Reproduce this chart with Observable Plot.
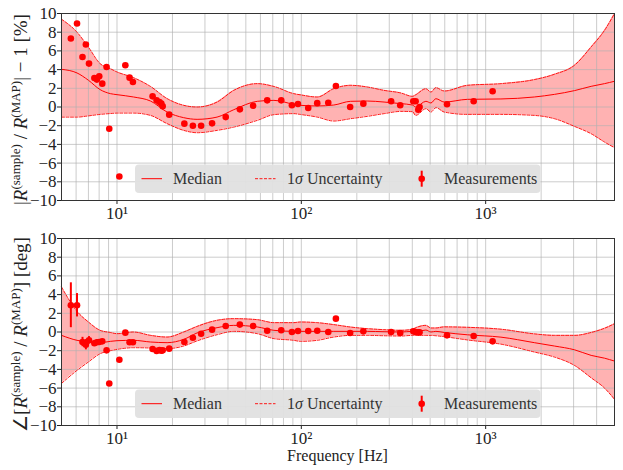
<!DOCTYPE html>
<html><head><meta charset="utf-8">
<script src="https://cdn.jsdelivr.net/npm/d3@7"></script>
<script src="https://cdn.jsdelivr.net/npm/@observablehq/plot@0.6"></script>
<style>body{margin:0;background:#fff;} #c svg{display:block;}</style>
</head><body><div id="c"></div>
<script>
// ---- data ----
const bandFreq = [5, 6.07, 7, 8.1, 9.2, 10, 12.3, 15.2, 18.7, 23, 27.2, 34.9, 43, 57.7, 71, 91, 99, 122, 150, 185, 228, 281, 347, 401, 417, 474, 505, 537, 596, 797, 1210, 1837, 2360, 3030, 3735, 4414, 5000];

const magUpper  = [9.39, 8.0, 6.4, 4.64, 4.1, 3.75, 3.14, 2.2, 0.9, 0.18, 0.0, 0.53, 1.78, 2.5, 2.2, 1.43, 1.3, 1.07, 1.96, 2.32, 2.14, 1.78, 1.5, 1.14, 1.3, 1.96, 1.6, 2.07, 1.71, 2.32, 2.5, 2.93, 3.5, 4.46, 6.43, 8.2, 10.0];
const magMedian = [4.03, 3.64, 2.86, 1.86, 1.43, 1.32, 1.07, 0.64, -0.54, -1.14, -1.32, -1.08, -0.29, 0.61, 0.71, 0.29, 0.18, 0.11, 0.21, 0.61, 0.64, 0.53, 0.36, 0.21, 0.0, 0.61, 0.43, 0.89, 0.53, 0.82, 0.86, 1.07, 1.35, 1.75, 2.21, 2.5, 2.75];
const magLower  = [-1.08, -1.08, -0.95, -0.79, -0.7, -0.65, -0.65, -0.9, -1.78, -2.5, -2.75, -2.5, -2.15, -1.43, -0.82, -0.71, -0.8, -1.08, -1.5, -1.25, -1.0, -0.71, -0.47, -0.5, -0.9, -0.18, -0.54, -0.07, -0.54, -0.79, -0.79, -0.9, -1.25, -2.07, -2.86, -3.75, -4.35];

const phaseUpper  = [4.82, 2.21, 1.07, 0.18, -0.05, -0.18, 0.0, -0.36, -0.54, 0.0, 0.6, 1.25, 1.43, 1.32, 1.0, 1.0, 1.07, 1.0, 0.79, 0.53, 0.36, 0.25, 0.18, 0.29, 0.45, 0.71, 0.43, 0.43, 0.55, 0.5, 0.3, -0.2, -0.36, -0.36, -0.05, 0.4, 0.89];
const phaseMedian = [-0.36, -0.89, -1.07, -1.14, -1.0, -0.93, -0.89, -1.07, -1.14, -0.79, -0.1, 0.46, 0.71, 0.54, 0.18, 0.07, 0.07, 0.07, 0.07, 0.07, 0.07, 0.03, 0.0, 0.07, 0.05, 0.21, 0.0, 0.07, -0.05, -0.3, -0.55, -1.14, -1.5, -1.9, -2.5, -2.8, -3.11];
const phaseLower  = [-5.5, -4.1, -3.2, -2.32, -2.0, -1.86, -1.68, -1.71, -1.78, -1.5, -0.95, -0.29, 0.07, -0.18, -0.71, -0.89, -1.0, -0.89, -0.54, -0.36, -0.36, -0.4, -0.43, -0.36, -0.36, -0.36, -0.36, -0.4, -0.5, -0.85, -1.3, -2.14, -2.68, -3.57, -4.9, -6.0, -7.2];

const measFreq  = [5.62, 6.07, 6.5, 6.78, 7.05, 7.54, 7.78, 8.01, 8.32, 8.78, 9.08, 10.3, 11.1, 11.7, 12.2, 15.6, 16.4, 17.0, 17.4, 17.7, 19.2, 23.2, 25.8, 28.6, 32.8, 38.9, 46.4, 54.8, 65.3, 77.8, 88.9, 95.9, 109, 122, 140, 154, 184, 217, 307, 344, 405, 417, 431, 438, 617, 861, 1091];
const magMeas   = [7.32, 8.93, 5.35, 6.68, 4.64, 3.1, 2.93, 3.28, 2.5, 4.28, -2.32, -7.43, 4.46, 3.14, 2.68, 1.14, 0.71, 0.53, 0.36, 0.07, -0.82, -1.78, -2.0, -2.0, -1.75, -1.08, -0.25, 0.14, 0.71, 0.71, 0.18, 0.32, -0.11, 0.41, 0.46, 2.25, 0.0, 0.36, 0.61, 0.18, 0.61, 0.61, -0.29, 0.0, 0.29, 0.61, 1.68];
const magErr    = measFreq.map(() => 0.15);
const phaseMeas = [2.86, 2.86, -1.07, -1.36, -0.89, -1.2, -1.1, -1.07, -1.0, -1.96, -5.5, -2.96, -0.07, -1.1, -1.1, -1.82, -2.04, -1.93, -2.0, -1.96, -1.78, -1.07, -0.61, -0.18, 0.25, 0.64, 0.79, 0.64, 0.14, 0.18, 0.0, 0.1, 0.1, 0.14, 0.0, 1.43, -0.11, 0.07, 0.0, -0.11, 0.07, 0.0, -0.04, -0.04, -0.36, -0.43, -1.0];
const phaseErr  = [2.4, 1.25, 0.5, 0.55, 0.4, 0.3, 0.25, 0.25, 0.2, 0.2, 0.15, 0.15, 0.1, 0.1, 0.1, 0.1, 0.1, 0.1, 0.1, 0.1, 0.1, 0.1, 0.1, 0.1, 0.1, 0.1, 0.1, 0.1, 0.1, 0.1, 0.1, 0.1, 0.1, 0.1, 0.1, 0.1, 0.1, 0.1, 0.1, 0.1, 0.1, 0.1, 0.1, 0.1, 0.1, 0.1, 0.1];

const yTicks = [-10, -8, -6, -4, -2, 0, 2, 4, 6, 8, 10];
const xTickValues = [10, 100, 1000];
const xTickLabels = ["10¹", "10²", "10³"];
const gridFreq = [5, 6, 7, 8, 9, 10, 20, 30, 40, 50, 60, 70, 80, 90, 100, 200, 300, 400, 500, 600, 700, 800, 900, 1000, 2000, 3000, 4000, 5000];

const legendLabels = ["Median", "Uncertainty", "Measurements"];
const xLabel = "Frequency [Hz]";

const FONT = "Liberation Serif";

function panel(o) {
  const band = bandFreq.map((f, i) => ({f, hi: o.upper[i], lo: o.lower[i], med: o.median[i]}));
  const pts = measFreq.map((f, i) => ({f, v: o.meas[i], e: o.err[i]}));
  const curve = "monotone-x";
  const svg = Plot.plot({
    width: 623, height: o.height,
    marginTop: 13, marginBottom: o.marginBottom, marginLeft: 61, marginRight: 9,
    style: {fontFamily: FONT, fontSize: "17px", color: "#222", background: "white"},
    x: {type: "log", domain: [5, 5000], ticks: xTickValues,
        tickFormat: d => xTickLabels[xTickValues.indexOf(d)], label: null, tickSize: 4, tickPadding: 2},
    y: {domain: [-10, 10], ticks: yTicks,
        tickFormat: d => d < 0 ? "\u2212" + (-d) : String(d), label: null, tickSize: 4, tickPadding: 1},
    marks: [
      Plot.areaY(band, {x: "f", y1: "lo", y2: "hi", fill: "#ff0000", fillOpacity: 0.3, curve}),
      Plot.ruleX(gridFreq, {stroke: "#b0b0b0", strokeOpacity: 0.65, strokeWidth: 1}),
      Plot.ruleY(yTicks, {stroke: "#b0b0b0", strokeOpacity: 0.65, strokeWidth: 1}),
      Plot.line(band, {x: "f", y: "hi", stroke: "red", strokeWidth: 0.9, strokeDasharray: "3,1.5", curve}),
      Plot.line(band, {x: "f", y: "lo", stroke: "red", strokeWidth: 0.9, strokeDasharray: "3,1.5", curve}),
      Plot.line(band, {x: "f", y: "med", stroke: "red", strokeWidth: 1, curve}),
      Plot.ruleX(pts, {x: "f", y1: d => d.v - d.e, y2: d => d.v + d.e, stroke: "red", strokeWidth: 2}),
      Plot.dot(pts, {x: "f", y: "v", r: 3.3, fill: "red", stroke: "none"}),
      Plot.frame({stroke: "#333", strokeWidth: 1})
    ]
  });
  const s = d3.select(svg);
  s.style("overflow", "visible");
  // legend
  const g = s.append("g").attr("font-family", FONT).attr("font-size", "16px").attr("fill", "#333")
    .attr("text-anchor", "start");
  g.append("rect").attr("x", 135).attr("y", 164.5).attr("width", 405.5).attr("height", 28.5)
    .attr("rx", 4).attr("fill", "#e0e0e0").attr("fill-opacity", 0.95);
  const ly = 178.7;
  g.append("line").attr("x1", 141.5).attr("x2", 162).attr("y1", ly).attr("y2", ly)
    .attr("stroke", "red").attr("stroke-width", 1);
  g.append("text").attr("x", 173).attr("y", ly + 5.5).attr("text-anchor", "start").text(legendLabels[0]);
  g.append("line").attr("x1", 255).attr("x2", 275.5).attr("y1", ly).attr("y2", ly)
    .attr("stroke", "red").attr("stroke-width", 0.9).attr("stroke-dasharray", "3,1.5");
  const t2 = g.append("text").attr("x", 287).attr("y", ly + 5.5).attr("text-anchor", "start");
  t2.append("tspan").text("1");
  t2.append("tspan").attr("font-style", "italic").text("σ");
  t2.append("tspan").text(" " + legendLabels[1]);
  g.append("line").attr("x1", 421.7).attr("x2", 421.7).attr("y1", ly - 8).attr("y2", ly + 8)
    .attr("stroke", "red").attr("stroke-width", 2);
  g.append("circle").attr("cx", 421.7).attr("cy", ly).attr("r", 3.3).attr("fill", "red");
  g.append("text").attr("x", 444).attr("y", ly + 5.5).attr("text-anchor", "start").text(legendLabels[2]);
  // y label
  const cy = 13 + (o.height - 13 - o.marginBottom) / 2 + o.labelShift;
  const yl = s.append("text").attr("transform", `translate(27,${cy}) rotate(-90)`)
    .attr("text-anchor", "middle").attr("font-family", FONT).attr("font-size", "19px").attr("fill", "#222");
  for (const part of o.ylabel) {
    const t = yl.append("tspan").text(part.t);
    if (part.i) t.attr("font-style", "italic");
    if (part.sup) t.attr("font-size", "13px").attr("dy", -7.5);
    if (part.down) t.attr("dy", 7.5);
  }
  if (o.xlabel) {
    s.append("text").attr("x", (61 + 614) / 2).attr("y", o.height - 9.5)
      .attr("text-anchor", "middle").attr("font-family", FONT).attr("font-size", "16px")
      .attr("fill", "#222").text(o.xlabel);
  }
  return svg;
}

const c = document.getElementById("c");
c.append(panel({
  median: magMedian, upper: magUpper, lower: magLower, meas: magMeas, err: magErr,
  height: 225, marginBottom: 25, labelShift: 3,
  ylabel: [{t: "|"}, {t: "R", i: true}, {t: "(sample)", sup: true}, {t: " / ", down: true}, {t: "R", i: true},
           {t: "(MAP)", sup: true}, {t: "| − 1 [%]", down: true}]
}));
c.append(panel({
  median: phaseMedian, upper: phaseUpper, lower: phaseLower, meas: phaseMeas, err: phaseErr,
  height: 245, marginBottom: 45, xlabel: xLabel, labelShift: 3,
  ylabel: [{t: "∠["}, {t: "R", i: true}, {t: "(sample)", sup: true}, {t: " / ", down: true}, {t: "R", i: true},
           {t: "(MAP)", sup: true}, {t: "] [deg]", down: true}]
}));
</script>
</body></html>
